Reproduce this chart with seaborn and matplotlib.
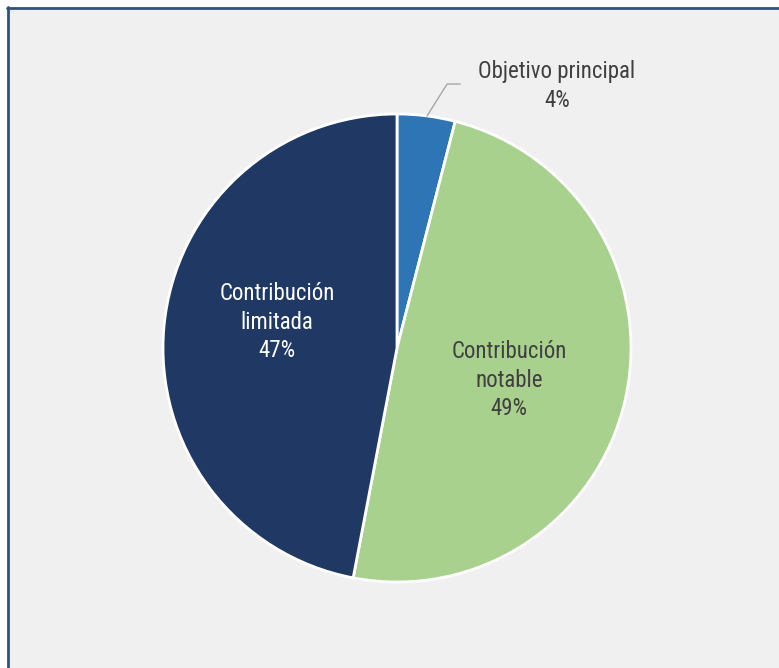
import matplotlib
matplotlib.use("Agg")
import matplotlib.pyplot as plt
from matplotlib import font_manager
from matplotlib.patches import Rectangle
import seaborn as sns

categories = ["Objetivo principal", "Contribución notable", "Contribución limitada"]
shares = [4, 49, 47]
slice_colors = ["#2e75b6", "#a9d18e", "#1f3864"]
label_colors = ["#404040", "#404040", "#ffffff"]
label_lines = ["Objetivo principal", "Contribución\nnotable", "Contribución\nlimitada"]

sns.set_theme(style="white")

# prefer a narrow sans face for the labels
installed = {f.name for f in font_manager.fontManager.ttflist}
font_sizes = {"Liberation Sans Narrow": 16, "Arial Narrow": 16, "Roboto Condensed": 16.5,
              "DejaVu Sans Condensed": 14, "Liberation Sans": 14}
label_font = next((n for n in font_sizes if n in installed), "DejaVu Sans")
fs = font_sizes.get(label_font, 13)
plt.rcParams["font.family"] = [label_font, "DejaVu Sans"]

W, H = 779, 668
fig = plt.figure(figsize=(W / 100, H / 100), dpi=100)
fig.patch.set_facecolor("white")

# panel background with a dark frame on the top and left edges
fig.add_artist(Rectangle((8 / W, 0), 1, (H - 8) / H, transform=fig.transFigure,
                         facecolor="#f0f0f0", edgecolor="none", zorder=-10))
fig.add_artist(plt.Line2D([7.5 / W, 7.5 / W], [0, (H - 7) / H], transform=fig.transFigure,
                          color="#34507e", lw=2, zorder=-5))
fig.add_artist(plt.Line2D([7 / W, 1], [(H - 7.5) / H, (H - 7.5) / H], transform=fig.transFigure,
                          color="#34507e", lw=2, zorder=-5))

cx, cy, r = 397, H - 348, 234
ax = fig.add_axes([(cx - r) / W, (cy - r) / H, 2 * r / W, 2 * r / H])
ax.set_facecolor("none")
ax.set_zorder(1)

wedges, _ = ax.pie(shares, colors=slice_colors, startangle=90, counterclock=False,
                   radius=1, wedgeprops=dict(edgecolor="white", linewidth=2))
ax.set_xlim(-1, 1)
ax.set_ylim(-1, 1)
ax.set_aspect("equal")
ax.axis("off")

ls = 1.3
# small slice: label outside with a leader line
ax.plot([0.128, 0.214, 0.27], [0.991, 1.128, 1.128], color="#a6a6a6", lw=1, clip_on=False)
ax.text(0.684, 1.12, f"{label_lines[0]}\n{shares[0]}%", ha="center", va="center",
        fontsize=fs, color=label_colors[0], linespacing=ls, clip_on=False)
ax.text(0.479, -0.137, f"{label_lines[1]}\n{shares[1]}%", ha="center", va="center",
        fontsize=fs, color=label_colors[1], linespacing=ls)
ax.text(-0.513, 0.111, f"{label_lines[2]}\n{shares[2]}%", ha="center", va="center",
        fontsize=fs, color=label_colors[2], linespacing=ls)

fig.savefig("out.png", dpi=100)
